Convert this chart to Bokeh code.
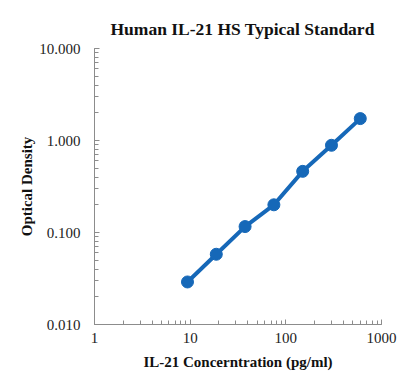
from bokeh.plotting import figure
from bokeh.models import NumeralTickFormatter, LogTicker
from bokeh.embed import file_html
from bokeh.resources import INLINE

conc = [9.375, 18.75, 37.5, 75, 150, 300, 600]
od = [0.029, 0.058, 0.116, 0.200, 0.462, 0.887, 1.73]

SERIF = "Liberation Serif"
BLUE = "#1668b8"
AXIS = "#8c8c8c"

p = figure(width=402, height=381, x_axis_type="log", y_axis_type="log",
           x_range=(1, 1000), y_range=(0.01, 10),
           frame_width=287, frame_height=276,
           min_border_left=94, min_border_right=21, min_border_top=48, min_border_bottom=57,
           output_backend="svg", toolbar_location=None,
           title="Human IL-21 HS Typical Standard")
p.outline_line_color = None
p.xgrid.visible = False
p.ygrid.visible = False

p.title.text_font = SERIF
p.title.text_font_size = "17.5px"
p.title.text_font_style = "bold"
p.title.align = "left"
p.title.text_color = "#111111"
p.title.standoff = 20
p.title.offset = 16

p.line(conc, od, line_color=BLUE, line_width=4)
p.scatter(conc, od, size=12, fill_color=BLUE, line_color=BLUE)

for ax in (p.xaxis[0], p.yaxis[0]):
    ax.axis_line_color = AXIS
    ax.major_tick_line_color = AXIS
    ax.minor_tick_line_color = AXIS
    ax.major_tick_in = 5
    ax.major_tick_out = 0
    ax.minor_tick_in = 4
    ax.minor_tick_out = 0
    ax.major_label_text_font = SERIF
    ax.major_label_text_font_size = "15px"
    ax.major_label_text_color = "#222222"
    ax.axis_label_text_font = SERIF
    ax.axis_label_text_font_size = "15px"
    ax.axis_label_text_font_style = "bold"
    ax.axis_label_text_color = "#111111"

p.xaxis[0].ticker = LogTicker(desired_num_ticks=4, num_minor_ticks=10)
p.yaxis[0].ticker = LogTicker(desired_num_ticks=4, num_minor_ticks=10)
p.xaxis[0].formatter = NumeralTickFormatter(format="0")
p.yaxis[0].formatter = NumeralTickFormatter(format="0.000")
p.xaxis[0].axis_label = "IL-21 Concerntration (pg/ml)"
p.yaxis[0].axis_label = "Optical Density"
p.xaxis[0].major_label_standoff = 8
p.yaxis[0].major_label_standoff = 14
p.xaxis[0].axis_label_standoff = 8
p.yaxis[0].axis_label_standoff = 1

open("out.html", "w").write(file_html(p, INLINE))
